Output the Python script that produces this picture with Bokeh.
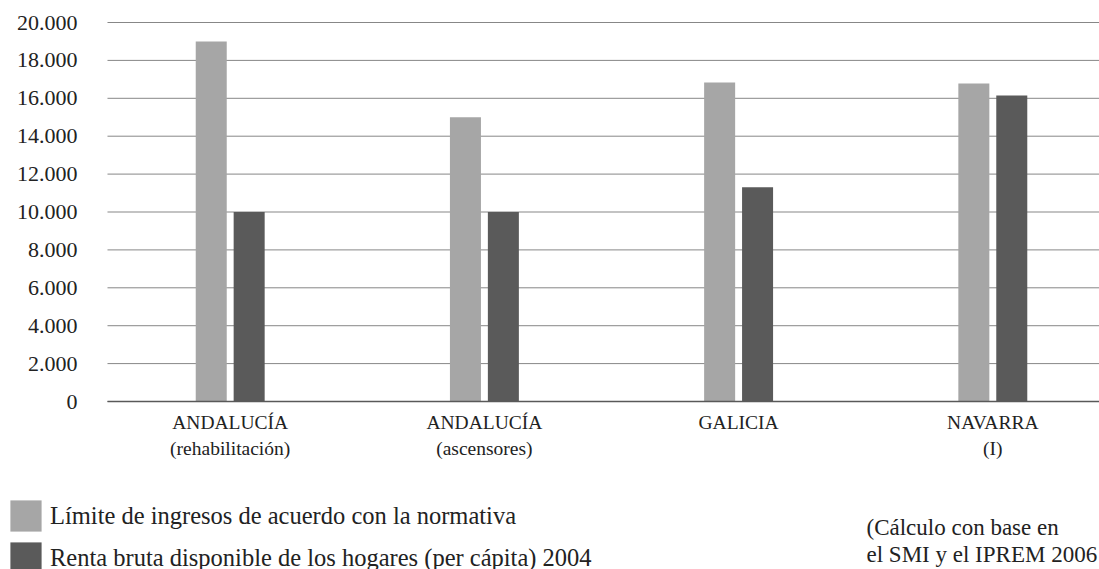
from bokeh.plotting import figure
from bokeh.models import (Range1d, FixedTicker, LinearAxis, Legend, LegendItem,
                          Label, ColumnDataSource)
from bokeh.transform import dodge
from bokeh.embed import file_html
from bokeh.resources import INLINE

# ---- data ----
categories_line1 = ["ANDALUCÍA", "ANDALUCÍA", "GALICIA", "NAVARRA"]
categories_line2 = ["(rehabilitación)", "(ascensores)", "", "(I)"]
limite = [19000, 15000, 16830, 16780]
renta = [10000, 10000, 11300, 16150]
y_ticks = [0, 2000, 4000, 6000, 8000, 10000, 12000, 14000, 16000, 18000, 20000]
y_tick_labels = ["0", "2.000", "4.000", "6.000", "8.000", "10.000", "12.000",
                 "14.000", "16.000", "18.000", "20.000"]
series_names = ["Límite de ingresos de acuerdo con la normativa",
                "Renta bruta disponible de los hogares (per cápita) 2004"]
note_lines = ["(Cálculo con base en", "el SMI y el IPREM 2006"]

LIGHT = "#a6a6a6"
DARK = "#5a5a5a"
TXT = "#222222"
SERIF = "Liberation Serif"

W, H = 1099, 569
# plot-area extent in data units (left edge of the value area, right edge)
X_LEFT, X_RIGHT = -0.4827, 3.4197

pos = list(range(len(categories_line1)))
src = ColumnDataSource(dict(x=pos, limite=limite, renta=renta))
grid_src = ColumnDataSource(dict(y=y_ticks))

p = figure(width=W, height=H,
           x_range=Range1d(-0.9036, X_RIGHT), y_range=Range1d(-8865, 21161),
           output_backend="svg", toolbar_location=None,
           x_axis_type=None, y_axis_type=None,
           min_border_left=0, min_border_right=0, min_border_top=0,
           min_border_bottom=0)
p.outline_line_color = None
p.xgrid.visible = False
p.ygrid.visible = False

# horizontal gridlines at the value ticks
p.segment(x0=X_LEFT, x1=X_RIGHT, y0="y", y1="y", source=grid_src,
          line_color="#878787", line_width=1)

r1 = p.vbar(x=dodge("x", -0.0746), top="limite", width=0.122, source=src,
            fill_color=LIGHT, line_color=None)
r2 = p.vbar(x=dodge("x", 0.0746), top="renta", width=0.122, source=src,
            fill_color=DARK, line_color=None)

# y axis (value labels)
ya = LinearAxis(fixed_location=X_LEFT, ticker=FixedTicker(ticks=y_ticks),
                major_label_overrides={t: l for t, l in zip(y_ticks, y_tick_labels)})
ya.axis_line_color = None
ya.major_tick_line_color = None
ya.minor_tick_line_color = None
ya.major_label_standoff = 24
ya.major_label_text_font = SERIF
ya.major_label_text_font_size = "22px"
ya.major_label_text_color = TXT
p.add_layout(ya, "left")

# x axis with two-line category labels
xa = LinearAxis(fixed_location=0, ticker=FixedTicker(ticks=pos),
                bounds=(X_LEFT, X_RIGHT),
                major_label_overrides={t: (a + "\n" + b if b else a)
                                       for t, a, b in zip(pos, categories_line1,
                                                          categories_line2)})
xa.axis_line_color = "#595959"
xa.axis_line_width = 1.5
xa.major_tick_line_color = None
xa.minor_tick_line_color = None
xa.major_label_standoff = 4
xa.major_label_text_font = SERIF
xa.major_label_text_font_size = "19.5px"
xa.major_label_text_line_height = 1.28
xa.major_label_text_color = TXT
p.add_layout(xa, "below")

legend = Legend(items=[LegendItem(label=series_names[0], renderers=[r1]),
                       LegendItem(label=series_names[1], renderers=[r2])],
                location=(6, -8), orientation="vertical",
                glyph_width=39, glyph_height=39, spacing=3, padding=0, margin=0,
                label_standoff=5, label_text_font=SERIF,
                label_text_font_size="24.5px", label_text_color=TXT,
                border_line_color=None, background_fill_alpha=0)
p.add_layout(legend)

for i, line in enumerate(note_lines):
    p.add_layout(Label(x=866, y=H - 527 - 27 * i, x_units="screen", y_units="screen",
                       text=line, text_font=SERIF, text_font_size="23px",
                       text_color=TXT, text_baseline="alphabetic"))

open("out.html", "w").write(file_html(p, INLINE))
